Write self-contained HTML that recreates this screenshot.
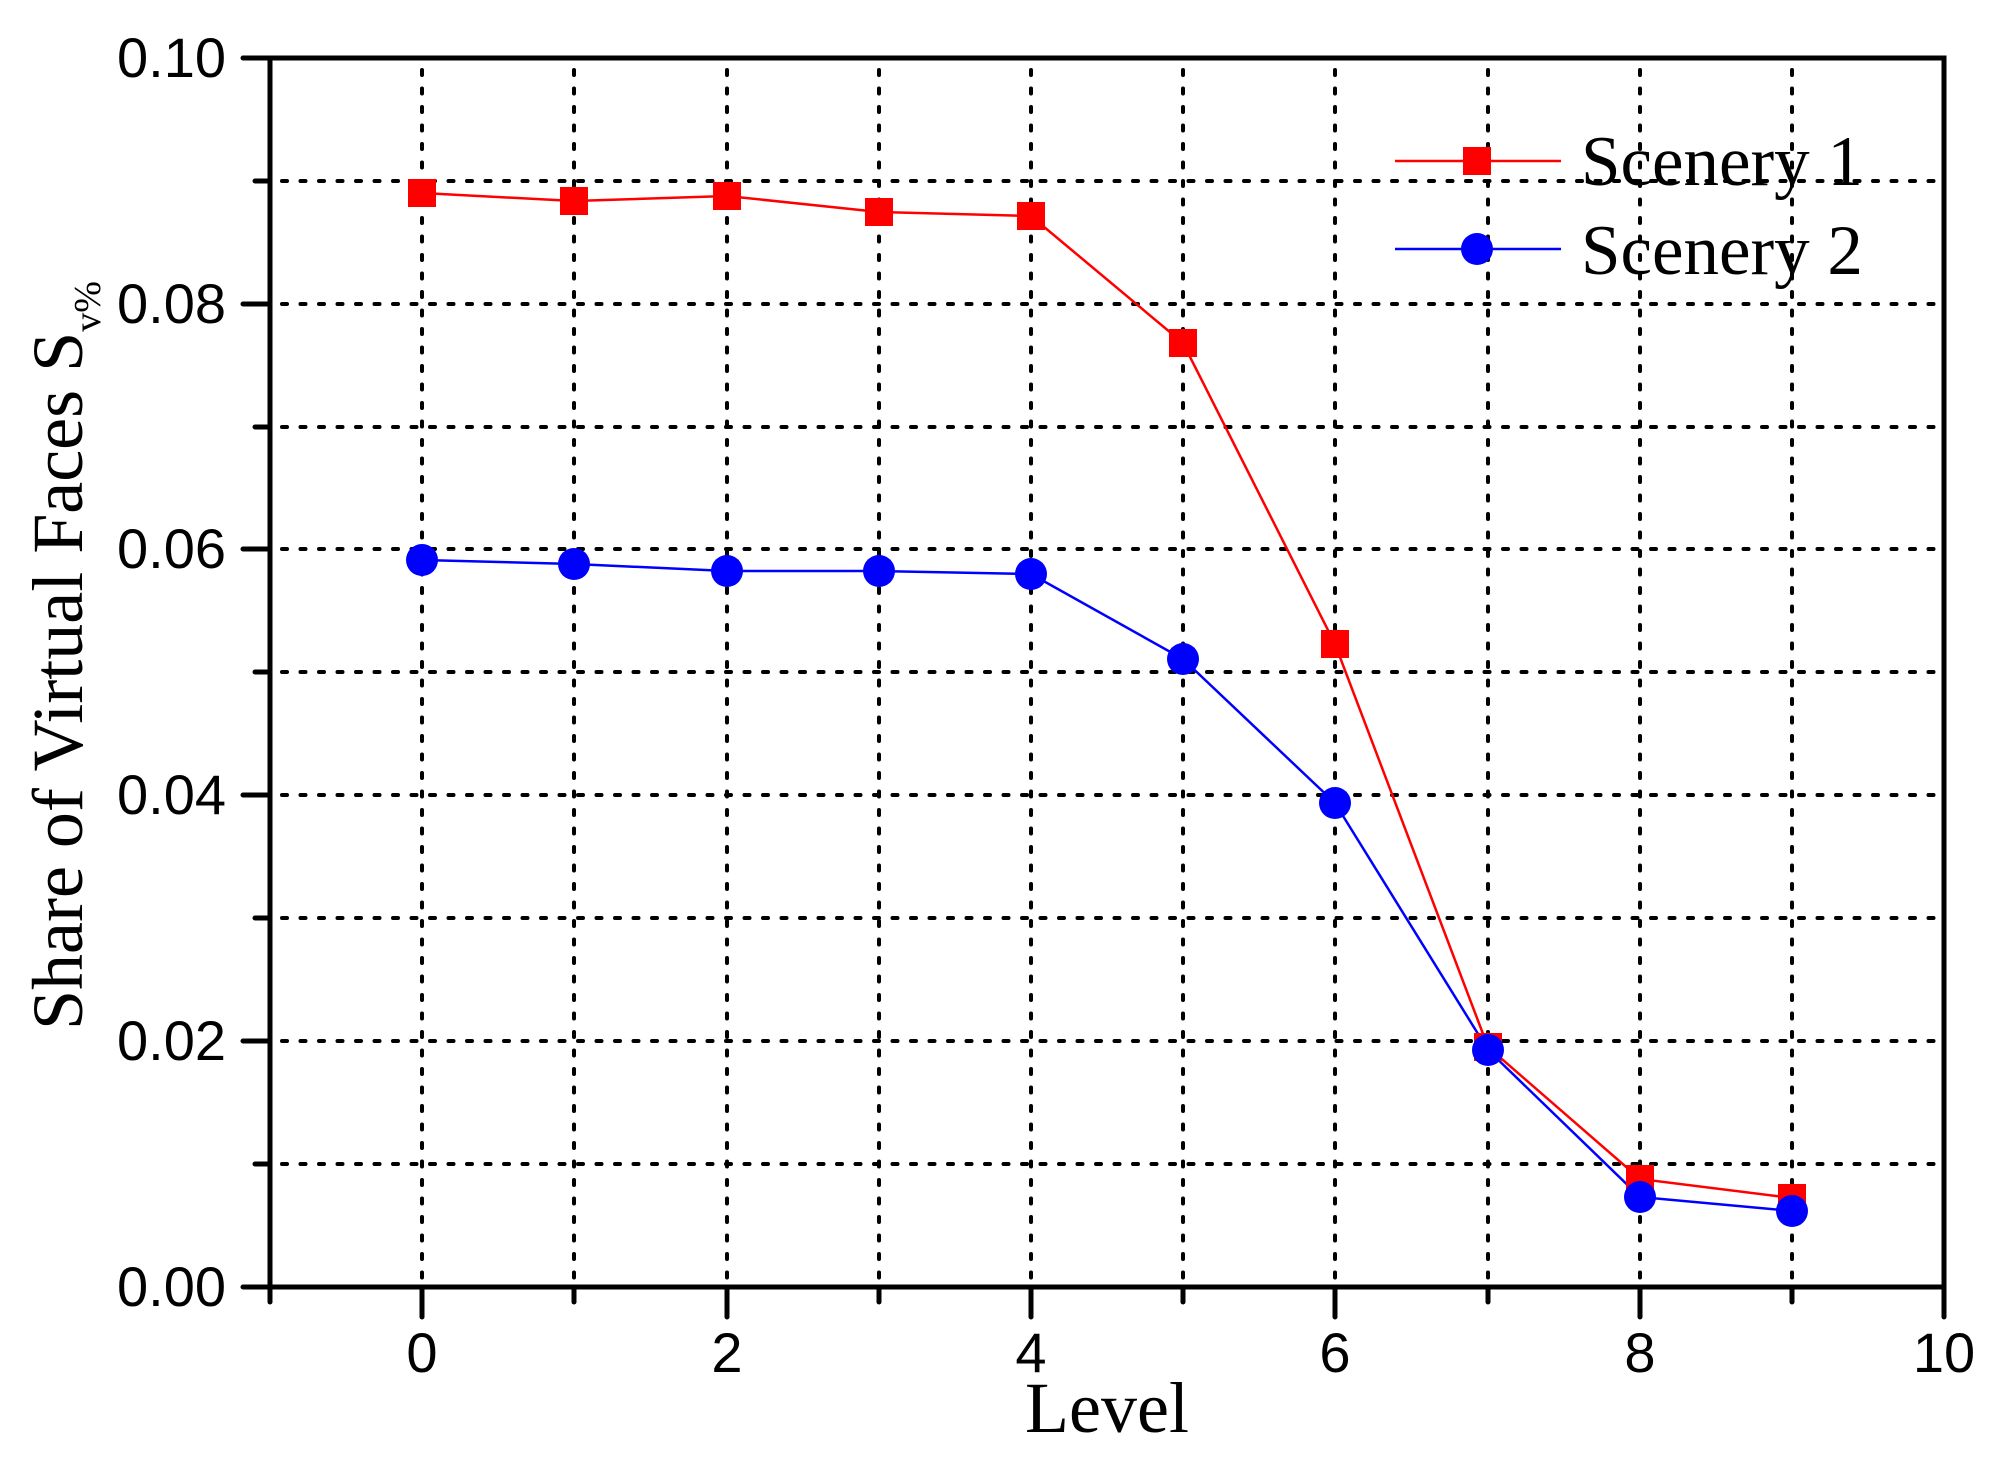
<!DOCTYPE html>
<html><head><meta charset="utf-8"><style>html,body{margin:0;padding:0;background:#fff}svg{display:block}</style></head>
<body>
<svg width="2011" height="1466" viewBox="0 0 2011 1466" xmlns="http://www.w3.org/2000/svg">
<rect width="2011" height="1466" fill="#fff"/>
<g stroke="#000" stroke-width="4" stroke-dasharray="5 13.5" stroke-linecap="round" fill="none">
<path d="M282 1164H1940M282 1041H1940M282 918H1940M282 795H1940M282 672H1940M282 549H1940M282 427H1940M282 304H1940M282 181H1940"/>
<path d="M422 70V1283M574 70V1283M727 70V1283M879 70V1283M1031 70V1283M1183 70V1283M1335 70V1283M1488 70V1283M1640 70V1283M1792 70V1283"/>
</g>
<g stroke="#000" stroke-width="5" stroke-linecap="round" fill="none">
<rect x="270" y="58" width="1674" height="1229"/>
<path d="M243 1287H270M243 1041H270M243 795H270M243 549H270M243 304H270M243 58H270"/>
<path d="M255 1164H270M255 918H270M255 672H270M255 427H270M255 181H270"/>
<path d="M270 1287V1302M422 1287V1317M574 1287V1302M727 1287V1317M879 1287V1302M1031 1287V1317M1183 1287V1302M1335 1287V1317M1488 1287V1302M1640 1287V1317M1792 1287V1302M1944 1287V1317"/>
</g>
<g font-family="Liberation Sans, Arial, sans-serif" font-size="56" fill="#000">
<g text-anchor="end">
<text x="226" y="1306">0.00</text>
<text x="226" y="1060">0.02</text>
<text x="226" y="814">0.04</text>
<text x="226" y="568">0.06</text>
<text x="226" y="323">0.08</text>
<text x="226" y="77">0.10</text>
</g>
<g text-anchor="middle">
<text x="422" y="1372">0</text>
<text x="727" y="1372">2</text>
<text x="1031" y="1372">4</text>
<text x="1335" y="1372">6</text>
<text x="1640" y="1372">8</text>
<text x="1944" y="1372">10</text>
</g>
</g>
<g font-family="Liberation Serif, Times New Roman, serif" fill="#000">
<text x="1107" y="1432" font-size="72" text-anchor="middle">Level</text>
<g transform="translate(82,1030) rotate(-90)">
<text x="0" y="0" font-size="72">Share of Virtual Faces S<tspan font-size="38" dy="18">v%</tspan></text>
</g>
<text x="1581" y="185" font-size="71">Scenery 1</text>
<text x="1581" y="274" font-size="71">Scenery 2</text>
</g>
<polyline fill="none" stroke="#f00" stroke-width="2.5" points="422,193 574,201 727,196 879,212 1031,216 1183,343 1335,644 1488,1047 1640,1179 1792,1198"/>
<polyline fill="none" stroke="#00f" stroke-width="2.5" points="422,560 574,564 727,571 879,571 1031,574 1183,659 1335,803 1488,1050 1640,1197 1792,1211"/>
<g fill="#f00">
<rect x="408" y="179" width="28" height="28"/><rect x="560" y="187" width="28" height="28"/><rect x="713" y="182" width="28" height="28"/><rect x="865" y="198" width="28" height="28"/><rect x="1017" y="202" width="28" height="28"/><rect x="1169" y="329" width="28" height="28"/><rect x="1321" y="630" width="28" height="28"/><rect x="1474" y="1033" width="28" height="28"/><rect x="1626" y="1165" width="28" height="28"/><rect x="1778" y="1184" width="28" height="28"/>
</g>
<g fill="#00f">
<circle cx="422" cy="560" r="16"/><circle cx="574" cy="564" r="16"/><circle cx="727" cy="571" r="16"/><circle cx="879" cy="571" r="16"/><circle cx="1031" cy="574" r="16"/><circle cx="1183" cy="659" r="16"/><circle cx="1335" cy="803" r="16"/><circle cx="1488" cy="1050" r="16"/><circle cx="1640" cy="1197" r="16"/><circle cx="1792" cy="1211" r="16"/>
</g>
<line x1="1395" y1="161" x2="1561" y2="161" stroke="#f00" stroke-width="2.5"/>
<rect x="1463" y="147" width="28" height="28" fill="#f00"/>
<line x1="1395" y1="249" x2="1561" y2="249" stroke="#00f" stroke-width="2.5"/>
<circle cx="1477" cy="249" r="16" fill="#00f"/>
</svg>
</body></html>
